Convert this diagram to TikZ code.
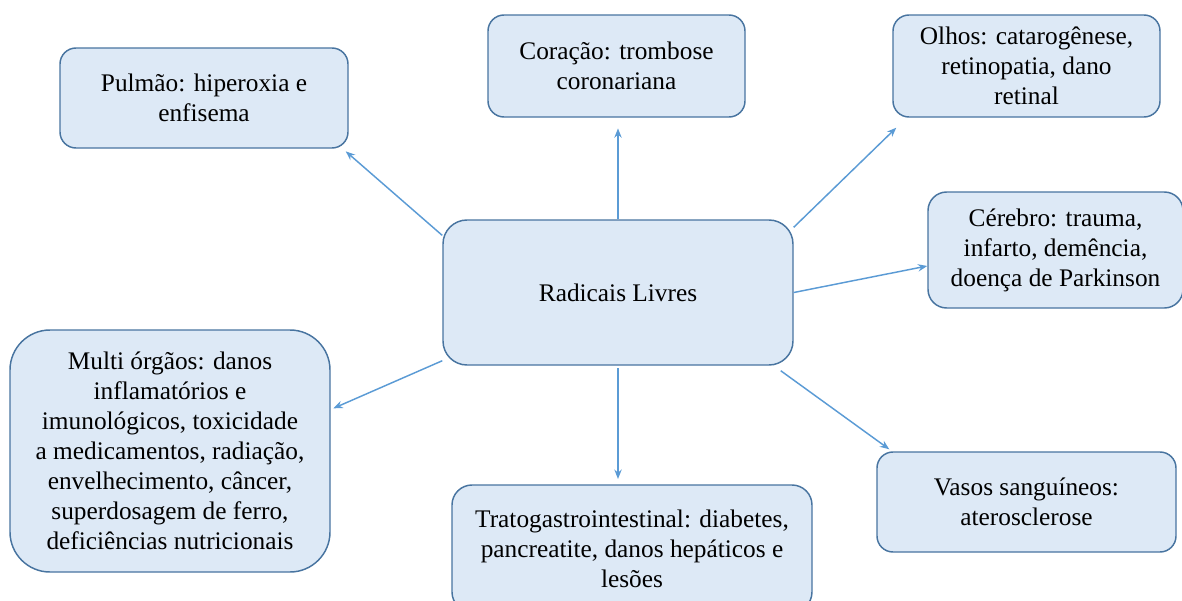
\documentclass[tikz,border=0pt]{standalone}
\usepackage{fontspec}
\setmainfont{LiberationSerif}[Extension=.ttf,UprightFont=*-Regular,BoldFont=*-Bold]
\usetikzlibrary{arrows.meta}
\definecolor{caixa}{RGB}{221,233,246}
\definecolor{borda}{RGB}{72,116,160}
\definecolor{seta}{RGB}{91,155,213}
\tikzset{
 orgao/.style={draw=borda,fill=caixa,line width=1.1pt,rounded corners=12pt,align=center,inner sep=0pt,
   font=\fontsize{19}{22.5}\selectfont},
 ligacao/.style={draw=seta,line width=1.1pt,-{Stealth[length=7pt,width=5.5pt]}}
}
\begin{document}
\begin{tikzpicture}[x=0.75pt,y=-0.75pt]
 \useasboundingbox (0,0) rectangle (1182,600);
 \clip (0,0) rectangle (1182,600);
 \node[orgao,minimum width=262.5pt,minimum height=108.75pt,rounded corners=18pt] (radicais) at (618,292.5) {Radicais Livres};
 \node[orgao,minimum width=216pt,minimum height=75pt] (pulmao) at (204,98) {Pulmão: hiperoxia e\\enfisema};
 \node[orgao,minimum width=192.75pt,minimum height=76.5pt] (coracao) at (616.5,66) {Coração: trombose\\coronariana};
 \node[orgao,minimum width=200.25pt,minimum height=76.5pt] (olhos) at (1026.5,66) {Olhos: catarogênese,\\retinopatia, dano\\retinal};
 \node[orgao,minimum width=191.25pt,minimum height=87pt,rounded corners=14pt] (cerebro) at (1055.5,250) {Cérebro: trauma,\\infarto, demência,\\doença de Parkinson};
 \node[orgao,minimum width=240pt,minimum height=181.5pt,rounded corners=30pt] (multi) at (170,451) {Multi órgãos: danos\\inflamatórios e\\imunológicos, toxicidade\\a medicamentos, radiação,\\envelhecimento, câncer,\\superdosagem de ferro,\\deficiências nutricionais};
 \node[orgao,minimum width=270pt,minimum height=95.25pt,rounded corners=15pt] (trato) at (632,548.5) {Tratogastrointestinal: diabetes,\\pancreatite, danos hepáticos e\\lesões};
 \node[orgao,minimum width=224.25pt,minimum height=75pt] (vasos) at (1026.5,502) {Vasos sanguíneos:\\aterosclerose};

 % setas a partir do centro
 \draw[ligacao,shorten >=3pt] (radicais.162) -- ([xshift=-4.5pt]pulmao.south east);
 \draw[ligacao,shorten >=8pt] (radicais.north) -- (radicais.north |- coracao.south);
 \draw[ligacao] ([yshift=-6pt]radicais.north east) -- ([xshift=3pt,yshift=-7.5pt]olhos.south west);
 \draw[ligacao] (radicais.east) -- ([yshift=-12pt]cerebro.west);
 \draw[ligacao] ([yshift=3.75pt]radicais.south west) -- ([xshift=2pt,yshift=32pt]multi.east);
 \draw[ligacao,shorten <=2pt,shorten >=4pt] (radicais.south) -- (radicais.south |- trato.north);
 \draw[ligacao] ([xshift=-9.75pt,yshift=-3.75pt]radicais.south east) -- ([xshift=9.75pt,yshift=1.5pt]vasos.north west);
\end{tikzpicture}
\end{document}
